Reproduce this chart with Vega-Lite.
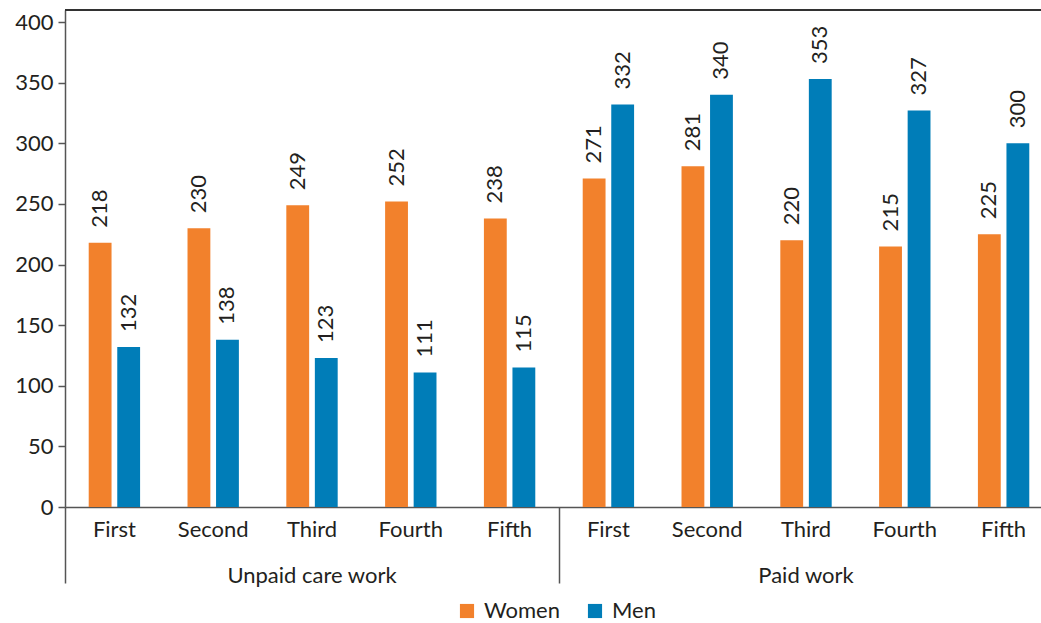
{
  "$schema": "https://vega.github.io/schema/vega-lite/v6.json",
  "width": 976,
  "height": 497,
  "autosize": {"type": "none"},
  "padding": {"left": 65, "top": 10, "right": 0, "bottom": 116},
  "config": {
    "view": {"stroke": null},
    "font": "Lato",
    "text": {"font": "Lato"},
    "axis": {"labelFont": "Lato", "labelColor": "#231f20"},
    "legend": {"labelFont": "Lato", "labelColor": "#231f20"}
  },
  "data": {
    "values": [
      {"cat": "Unpaid care work", "q": "First", "key": "Unpaid care work|First", "sex": "Women", "value": 218},
      {"cat": "Unpaid care work", "q": "First", "key": "Unpaid care work|First", "sex": "Men", "value": 132},
      {"cat": "Unpaid care work", "q": "Second", "key": "Unpaid care work|Second", "sex": "Women", "value": 230},
      {"cat": "Unpaid care work", "q": "Second", "key": "Unpaid care work|Second", "sex": "Men", "value": 138},
      {"cat": "Unpaid care work", "q": "Third", "key": "Unpaid care work|Third", "sex": "Women", "value": 249},
      {"cat": "Unpaid care work", "q": "Third", "key": "Unpaid care work|Third", "sex": "Men", "value": 123},
      {"cat": "Unpaid care work", "q": "Fourth", "key": "Unpaid care work|Fourth", "sex": "Women", "value": 252},
      {"cat": "Unpaid care work", "q": "Fourth", "key": "Unpaid care work|Fourth", "sex": "Men", "value": 111},
      {"cat": "Unpaid care work", "q": "Fifth", "key": "Unpaid care work|Fifth", "sex": "Women", "value": 238},
      {"cat": "Unpaid care work", "q": "Fifth", "key": "Unpaid care work|Fifth", "sex": "Men", "value": 115},
      {"cat": "Paid work", "q": "First", "key": "Paid work|First", "sex": "Women", "value": 271},
      {"cat": "Paid work", "q": "First", "key": "Paid work|First", "sex": "Men", "value": 332},
      {"cat": "Paid work", "q": "Second", "key": "Paid work|Second", "sex": "Women", "value": 281},
      {"cat": "Paid work", "q": "Second", "key": "Paid work|Second", "sex": "Men", "value": 340},
      {"cat": "Paid work", "q": "Third", "key": "Paid work|Third", "sex": "Women", "value": 220},
      {"cat": "Paid work", "q": "Third", "key": "Paid work|Third", "sex": "Men", "value": 353},
      {"cat": "Paid work", "q": "Fourth", "key": "Paid work|Fourth", "sex": "Women", "value": 215},
      {"cat": "Paid work", "q": "Fourth", "key": "Paid work|Fourth", "sex": "Men", "value": 327},
      {"cat": "Paid work", "q": "Fifth", "key": "Paid work|Fifth", "sex": "Women", "value": 225},
      {"cat": "Paid work", "q": "Fifth", "key": "Paid work|Fifth", "sex": "Men", "value": 300}
    ]
  },
  "layer": [
    {
      "encoding": {
        "x": {
          "field": "key",
          "type": "nominal",
          "sort": ["Unpaid care work|First", "Unpaid care work|Second", "Unpaid care work|Third", "Unpaid care work|Fourth", "Unpaid care work|Fifth", "Paid work|First", "Paid work|Second", "Paid work|Third", "Paid work|Fourth", "Paid work|Fifth"],
          "scale": {"range": [0, 988], "paddingInner": 0.48, "paddingOuter": 0.24},
          "axis": {
            "title": null,
            "ticks": false,
            "domain": true,
            "domainColor": "#555555",
            "domainWidth": 1.5,
            "labelExpr": "split(datum.label, '|')[1]",
            "labelFontSize": 22,
            "labelPadding": 12,
            "labelAngle": 0
          }
        },
        "xOffset": {"field": "sex", "type": "nominal", "sort": ["Women", "Men"], "scale": {"paddingInner": 0.2}},
        "y": {
          "field": "value",
          "type": "quantitative",
          "scale": {"domain": [0, 410], "nice": false},
          "axis": {
            "title": null,
            "values": [0, 50, 100, 150, 200, 250, 300, 350, 400],
            "grid": false,
            "domainColor": "#555555",
            "domainWidth": 1.5,
            "tickColor": "#555555",
            "tickWidth": 1.5,
            "tickSize": 7,
            "labelFontSize": 22,
            "labelPadding": 5
          }
        }
      },
      "layer": [
        {
          "mark": {"type": "bar"},
          "encoding": {
            "color": {
              "field": "sex",
              "type": "nominal",
              "sort": ["Women", "Men"],
              "scale": {"domain": ["Women", "Men"], "range": ["#F2812C", "#007DB8"]},
              "legend": {
                "title": null,
                "orient": "none",
                "legendX": 391,
                "legendY": 590,
                "direction": "horizontal",
                "symbolType": "square",
                "symbolSize": 200,
                "symbolStrokeWidth": 0,
                "labelFontSize": 22,
                "labelOffset": 6,
                "columnPadding": 24,
                "padding": 0
              }
            }
          }
        },
        {
          "mark": {"type": "text", "angle": 270, "align": "left", "baseline": "middle", "dx": 15, "fontSize": 22, "color": "#231f20"},
          "encoding": {"text": {"field": "value", "type": "quantitative"}}
        }
      ]
    },
    {
      "mark": {"type": "rule", "color": "#333333", "strokeWidth": 1.5},
      "encoding": {"y": {"datum": 410, "type": "quantitative"}}
    },
    {
      "mark": {"type": "bar", "opacity": 0},
      "encoding": {
        "x": {
          "field": "cat",
          "type": "nominal",
          "sort": ["Unpaid care work", "Paid work"],
          "scale": {"range": [0, 988], "paddingInner": 0, "paddingOuter": 0},
          "axis": {
            "orient": "bottom",
            "title": null,
            "domain": false,
            "ticks": true,
            "bandPosition": 0,
            "tickSize": 76,
            "tickColor": "#555555",
            "tickWidth": 1.5,
            "labelPadding": -18,
            "labelFontSize": 22,
            "labelAngle": 0
          }
        },
        "y": {"datum": 0, "type": "quantitative"}
      }
    }
  ],
  "resolve": {"scale": {"x": "independent", "xOffset": "independent"}}
}
